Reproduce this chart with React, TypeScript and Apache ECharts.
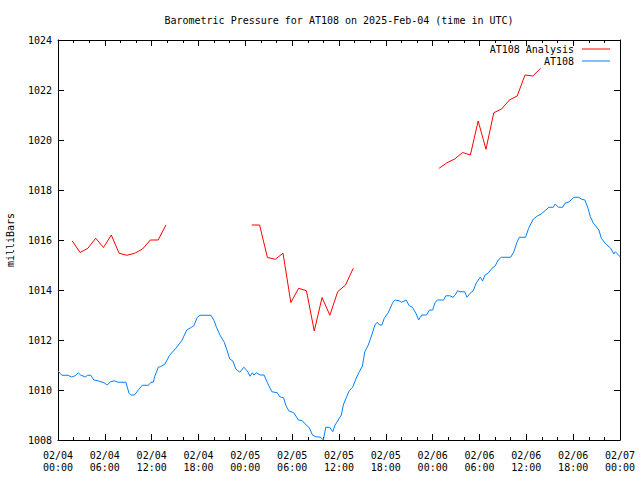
import React, { useEffect, useRef } from "react";
import * as echarts from "echarts";

const title = "Barometric Pressure for AT108 on 2025-Feb-04 (time in UTC)";
const yAxisTitle = "milliBars";

// x values are hours since 2025-02-04 00:00 UTC
const xTickLabels = [
  "02/04\n00:00", "02/04\n06:00", "02/04\n12:00", "02/04\n18:00",
  "02/05\n00:00", "02/05\n06:00", "02/05\n12:00", "02/05\n18:00",
  "02/06\n00:00", "02/06\n06:00", "02/06\n12:00", "02/06\n18:00",
  "02/07\n00:00",
];

// Analysis (hourly, three segments); times are hour + 0.83
const analysisSeg1Start = 1;
const analysisSeg1 = [1015.96, 1015.5, 1015.67, 1016.07, 1015.7, 1016.2, 1015.47, 1015.39, 1015.47, 1015.64, 1016.0, 1016.0, 1016.6];
const analysisSeg2Start = 24;
const analysisSeg2 = [1016.6, 1016.6, 1015.3, 1015.23, 1015.47, 1013.5, 1014.07, 1013.97, 1012.36, 1013.7, 1012.99, 1013.93, 1014.2, 1014.87];
const analysisSeg3Start = 48;
const analysisSeg3 = [1018.87, 1019.09, 1019.24, 1019.5, 1019.4, 1020.76, 1019.63, 1021.09, 1021.24, 1021.6, 1021.76, 1022.6, 1022.56, 1022.87];
const analysisOffset = 0.83;

// Observed station pressure
const obsHours = [
  0.0, 0.5, 1.3, 1.75, 2.2, 2.6, 2.9, 3.5, 3.8, 4.2, 4.6, 5.1, 5.9, 6.3, 6.7, 7.2, 7.7, 8.7, 9.1, 9.3,
  9.8, 10.3, 10.8, 11.6, 11.9, 12.2, 12.4, 12.85, 13.1, 13.7, 14.3, 15.1, 15.85, 16.5, 17.1, 17.4, 17.85, 18.2, 19.6, 20.0,
  20.3, 20.8, 21.3, 21.6, 22.0, 22.4, 22.8, 23.3, 23.8, 24.25, 24.6, 24.9, 25.1, 25.4, 25.9, 26.4, 26.8, 27.4, 28.1, 28.4,
  28.9, 29.2, 29.6, 30.2, 30.8, 31.3, 31.8, 32.2, 32.6, 33.05, 33.65, 34.0, 34.3, 34.8, 35.2, 35.5, 35.9, 36.3, 36.55, 36.9,
  37.3, 37.75, 38.2, 38.6, 39.0, 39.3, 39.75, 40.2, 40.6, 40.9, 41.2, 41.5, 41.8, 42.3, 42.9, 43.2, 43.7, 44.0, 44.6, 45.0,
  45.4, 45.9, 46.2, 46.6, 47.2, 47.6, 48.0, 48.3, 48.6, 49.4, 49.7, 50.2, 50.6, 50.9, 51.2, 51.5, 52.1, 52.4, 52.8, 53.2,
  53.6, 54.1, 54.4, 54.7, 55.1, 55.6, 56.0, 56.4, 56.8, 58.0, 58.4, 58.8, 59.1, 59.9, 60.3, 60.9, 61.45, 61.9, 62.5, 62.9,
  63.45, 63.7, 64.1, 64.65, 64.95, 65.5, 66.1, 66.7, 67.1, 67.5, 67.9, 68.2, 68.6, 69.3, 69.6, 70.1, 70.8, 71.2, 71.4, 71.8,
  72.0,
];
const obsValues = [
  1010.76, 1010.59, 1010.59, 1010.52, 1010.57, 1010.69, 1010.6, 1010.52, 1010.59, 1010.59, 1010.4, 1010.37, 1010.29, 1010.2, 1010.32, 1010.37, 1010.31, 1010.31, 1009.87, 1009.8,
  1009.8, 1010.0, 1010.19, 1010.19, 1010.31, 1010.31, 1010.55, 1010.91, 1010.93, 1011.04, 1011.39, 1011.67, 1011.97, 1012.4, 1012.51, 1012.57, 1012.91, 1012.99, 1012.99, 1012.77,
  1012.51, 1012.17, 1011.91, 1011.64, 1011.24, 1011.16, 1010.83, 1010.71, 1010.91, 1010.77, 1010.55, 1010.69, 1010.6, 1010.69, 1010.6, 1010.6, 1010.31, 1009.93, 1009.89, 1009.73,
  1009.69, 1009.37, 1009.16, 1009.09, 1008.8, 1008.77, 1008.6, 1008.49, 1008.2, 1008.13, 1008.11, 1008.0, 1008.51, 1008.51, 1008.33, 1008.6, 1008.8, 1009.0, 1009.4, 1009.67,
  1009.97, 1010.11, 1010.47, 1010.73, 1010.96, 1011.53, 1011.8, 1012.2, 1012.6, 1012.71, 1012.6, 1012.6, 1012.87, 1013.09, 1013.51, 1013.6, 1013.57, 1013.51, 1013.6, 1013.37,
  1013.31, 1013.04, 1012.8, 1013.0, 1013.0, 1013.2, 1013.2, 1013.49, 1013.6, 1013.6, 1013.77, 1013.77, 1013.71, 1013.8, 1013.97, 1013.93, 1013.93, 1013.71, 1013.87, 1013.97,
  1014.29, 1014.51, 1014.36, 1014.6, 1014.67, 1014.87, 1014.96, 1015.2, 1015.31, 1015.31, 1015.53, 1015.91, 1016.11, 1016.11, 1016.47, 1016.84, 1016.97, 1017.04, 1017.2, 1017.31,
  1017.31, 1017.44, 1017.31, 1017.31, 1017.47, 1017.53, 1017.71, 1017.71, 1017.63, 1017.6, 1017.27, 1016.93, 1016.67, 1016.4, 1016.07, 1015.87, 1015.67, 1015.44, 1015.53, 1015.4,
  1015.33,
];

const FONT = "DejaVu Sans Mono";

export default function App() {
  const ref = useRef<HTMLDivElement>(null);
  useEffect(() => {
    if (!ref.current) return;
    const chart = echarts.init(ref.current, null, { renderer: "svg" });

    const analysisData: any[] = [];
    const addSeg = (start: number, vals: number[]) => {
      vals.forEach((v, i) => analysisData.push([start + i + analysisOffset, v]));
      analysisData.push([start + vals.length + analysisOffset, "-"]);
    };
    addSeg(analysisSeg1Start, analysisSeg1);
    addSeg(analysisSeg2Start, analysisSeg2);
    addSeg(analysisSeg3Start, analysisSeg3);
    const obsData = obsHours.map((h, i) => [h, obsValues[i]]);

    const black = "#000";
    const xCommon = {
      type: "value",
      min: 0,
      max: 72,
      interval: 6,
      axisLine: { show: true, onZero: false, lineStyle: { color: black, width: 1 } },
      axisTick: { show: true, inside: true, length: 6, lineStyle: { color: black } },
      minorTick: { show: true, splitNumber: 3, length: 3, lineStyle: { color: black } },
      splitLine: { show: false },
      minorSplitLine: { show: false },
    };
    const yCommon = {
      type: "value",
      min: 1008,
      max: 1024,
      interval: 2,
      axisLine: { show: true, onZero: false, lineStyle: { color: black, width: 1 } },
      axisTick: { show: true, inside: true, length: 6, lineStyle: { color: black } },
      splitLine: { show: false },
    };

    chart.setOption({
      animation: false,
      backgroundColor: "#fff",
      textStyle: { fontFamily: FONT },
      grid: { left: 58, right: 20, top: 40, bottom: 40, containLabel: false },
      xAxis: [
        {
          ...xCommon,
          position: "bottom",
          axisLabel: {
            show: true,
            margin: 9,
            fontFamily: FONT,
            fontSize: 10,
            color: black,
            lineHeight: 12,
            formatter: (v: number) => xTickLabels[Math.round(v / 6)] ?? "",
          },
        },
        { ...xCommon, position: "top", axisLabel: { show: false } },
      ],
      yAxis: [
        {
          ...yCommon,
          position: "left",
          axisLabel: {
            show: true,
            margin: 6,
            fontFamily: FONT,
            fontSize: 10,
            color: black,
            formatter: (v: number) => String(v),
          },
        },
        { ...yCommon, position: "right", axisLabel: { show: false } },
      ],
      legend: [
        {
          data: ["AT108 Analysis"],
          right: 30,
          top: 44,
          padding: 0,
          align: "right",
          icon: "rect",
          itemWidth: 28,
          itemHeight: 1,
          selectedMode: false,
          textStyle: { fontFamily: FONT, fontSize: 10, color: black, padding: [0, 3, 0, 0] },
        },
        {
          data: ["AT108"],
          right: 30,
          top: 56,
          padding: 0,
          align: "right",
          icon: "rect",
          itemWidth: 28,
          itemHeight: 1,
          selectedMode: false,
          textStyle: { fontFamily: FONT, fontSize: 10, color: black, padding: [0, 3, 0, 0] },
        },
      ],
      graphic: [
        {
          type: "text",
          x: 339,
          y: 20,
          style: { text: title, font: `10px "${FONT}"`, fill: black, textAlign: "center", textVerticalAlign: "middle" },
        },
        {
          type: "text",
          x: 10,
          y: 240,
          rotation: Math.PI / 2,
          style: { text: yAxisTitle, font: `10px "${FONT}"`, fill: black, textAlign: "center", textVerticalAlign: "middle" },
        },
      ],
      series: [
        {
          name: "AT108 Analysis",
          type: "line",
          data: analysisData,
          showSymbol: false,
          symbol: "none",
          connectNulls: false,
          color: "#ff0000",
          lineStyle: { width: 1, color: "#ff0000" },
          itemStyle: { color: "#ff0000" },
        },
        {
          name: "AT108",
          type: "line",
          data: obsData,
          showSymbol: false,
          symbol: "none",
          color: "#0080ff",
          lineStyle: { width: 1, color: "#0080ff" },
          itemStyle: { color: "#0080ff" },
        },
      ],
    });
    return () => chart.dispose();
  }, []);
  return <div ref={ref} style={{ width: 640, height: 480, position: "absolute", left: 0, top: 0 }} />;
}
